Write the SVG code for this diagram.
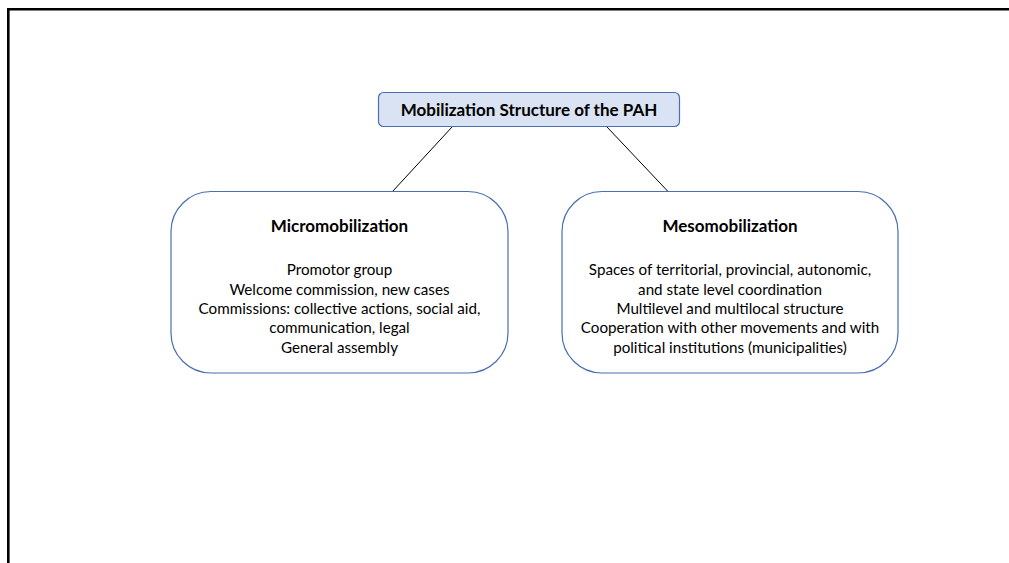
<svg xmlns="http://www.w3.org/2000/svg" width="1009" height="563" viewBox="0 0 1009 563">
<style>
.frame{stroke:#000;stroke-width:2.6;fill:none}
.box{fill:#fff;stroke:#4a6eb0;stroke-width:1.2}
.title{fill:#dae3f3;stroke:#4a6eb0;stroke-width:1.2}
.con{stroke:#000;stroke-width:1}
text{font-family:Lato,"Liberation Sans",sans-serif;fill:#000;text-anchor:middle}
.b{font-weight:bold;font-size:17px}
.t{font-size:15.2px}
</style>
<rect width="1009" height="563" fill="#fff"/>
<g id="frame">
<path class="frame" d="M8.3,563 V9.3 H1009"/>
</g>
<g id="connectors">
<line class="con" x1="452" y1="127" x2="392.5" y2="191.5"/>
<line class="con" x1="607" y1="127" x2="668" y2="191.5"/>
</g>
<g id="root">
<rect class="title" x="378.5" y="92.5" width="301" height="34" rx="5"/>
<text class="b" x="529" y="116">Mobilization Structure of the PAH</text>
</g>
<g id="micro">
<rect class="box" x="171" y="191.5" width="337" height="181.5" rx="40"/>
<text class="b" x="339.5" y="231.5">Micromobilization</text>
<text class="t" x="339.5" y="275.3">Promotor group</text>
<text class="t" x="339.5" y="294.7">Welcome commission, new cases</text>
<text class="t" x="339.5" y="314">Commissions: collective actions, social aid,</text>
<text class="t" x="339.5" y="333.3">communication, legal</text>
<text class="t" x="339.5" y="353">General assembly</text>
</g>
<g id="meso">
<rect class="box" x="562" y="191.5" width="336" height="181.5" rx="40"/>
<text class="b" x="730" y="231.5">Mesomobilization</text>
<text class="t" x="730" y="275.3">Spaces of territorial, provincial, autonomic,</text>
<text class="t" x="730" y="294.7">and state level coordination</text>
<text class="t" x="730" y="314">Multilevel and multilocal structure</text>
<text class="t" x="730" y="333.3">Cooperation with other movements and with</text>
<text class="t" x="730" y="353">political institutions (municipalities)</text>
</g>
</svg>
